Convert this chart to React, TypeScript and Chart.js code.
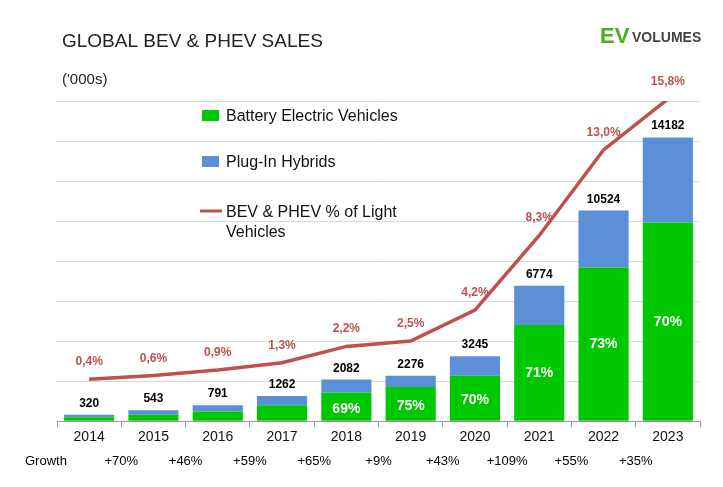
import React, { useEffect, useRef } from "react";
import { Chart, registerables } from "chart.js";
Chart.register(...registerables);

const years = ["2014","2015","2016","2017","2018","2019","2020","2021","2022","2023"];
const totals = [320,543,791,1262,2082,2276,3245,6774,10524,14182];
const bev = [200,320,480,800,1437,1707,2272,4810,7683,9927];
const phev = totals.map((t, i) => t - bev[i]);
const bevShareLabels = ["","","","","69%","75%","70%","71%","73%","70%"];
const sharePct = [0.4,0.6,0.9,1.3,2.2,2.5,4.2,8.3,13.0,15.8];
const shareLabels = ["0,4%","0,6%","0,9%","1,3%","2,2%","2,5%","4,2%","8,3%","13,0%","15,8%"];
const growth = ["","+70%","+46%","+59%","+65%","+9%","+43%","+109%","+55%","+35%"];

const RED = "#c0504d", GREEN = "#00c800", BLUE = "#5b8fd8";
const FONT = "Liberation Sans, Arial, sans-serif";

const deco = {
  id: "deco",
  afterDatasetsDraw(chart: any) {
    const ctx = chart.ctx;
    const x = chart.scales.x;
    const y = chart.scales.y;
    const y2 = chart.scales.y2;
    ctx.save();
    ctx.textAlign = "center";
    ctx.textBaseline = "alphabetic";
    ctx.font = `bold 12px ${FONT}`;
    ctx.fillStyle = "#000";
    totals.forEach((t, i) => ctx.fillText(String(t), x.getPixelForValue(i), y.getPixelForValue(t) - 8));
    ctx.font = `bold 14px ${FONT}`;
    ctx.fillStyle = "#fff";
    ctx.textBaseline = "middle";
    bevShareLabels.forEach((l, i) => { if (l) ctx.fillText(l, x.getPixelForValue(i), (y.getPixelForValue(bev[i]) + y.getPixelForValue(0)) / 2 + (bev[i] > 3000 ? 0 : 2)); });
    ctx.font = `bold 12px ${FONT}`;
    ctx.fillStyle = RED;
    ctx.textBaseline = "alphabetic";
    shareLabels.forEach((l, i) => ctx.fillText(l, x.getPixelForValue(i), y2.getPixelForValue(sharePct[i]) - 14));
    ctx.font = `13px ${FONT}`;
    ctx.fillStyle = "#000";
    ctx.textAlign = "left";
    ctx.fillText("Growth", 25, 465);
    ctx.textAlign = "center";
    growth.forEach((g, i) => { if (g) ctx.fillText(g, (x.getPixelForValue(i) + x.getPixelForValue(i - 1)) / 2, 465); });
    ctx.textAlign = "left";
    ctx.font = `19px ${FONT}`;
    ctx.fillStyle = "#222";
    ctx.fillText("GLOBAL BEV & PHEV SALES", 62, 47);
    ctx.font = `15px ${FONT}`;
    ctx.fillText("('000s)", 62, 84);
    ctx.font = `bold 22px ${FONT}`;
    ctx.fillStyle = "#4caf1a";
    ctx.fillText("EV", 600, 43);
    ctx.font = `bold 14px ${FONT}`;
    ctx.fillStyle = "#444";
    ctx.fillText("VOLUMES", 632, 42);
    ctx.font = `16px ${FONT}`;
    ctx.fillStyle = GREEN; ctx.fillRect(202, 110, 17, 11);
    ctx.fillStyle = BLUE; ctx.fillRect(202, 156, 17, 11);
    ctx.strokeStyle = RED; ctx.lineWidth = 3;
    ctx.beginPath(); ctx.moveTo(200, 211); ctx.lineTo(222, 211); ctx.stroke();
    ctx.fillStyle = "#111";
    ctx.fillText("Battery Electric Vehicles", 226, 121);
    ctx.fillText("Plug-In Hybrids", 226, 167);
    ctx.fillText("BEV & PHEV % of Light", 226, 217);
    ctx.fillText("Vehicles", 226, 237);
    ctx.restore();
  },
};

export default function App() {
  const ref = useRef<HTMLCanvasElement>(null);
  useEffect(() => {
    const chart = new Chart(ref.current!, {
      type: "bar",
      data: {
        labels: years,
        datasets: [
          { type: "line", data: sharePct, yAxisID: "y2", borderColor: RED, borderWidth: 3.5, pointRadius: 0, tension: 0, order: 0 } as any,
          { data: bev, backgroundColor: GREEN, yAxisID: "y", categoryPercentage: 0.78, barPercentage: 1, order: 1 },
          { data: phev, backgroundColor: BLUE, yAxisID: "y", categoryPercentage: 0.78, barPercentage: 1, order: 1 },
        ],
      },
      options: {
        animation: false,
        responsive: false,
        layout: { padding: { left: 57, right: 23, top: 101, bottom: 39 } },
        plugins: { legend: { display: false }, tooltip: { enabled: false } },
        scales: {
          x: {
            stacked: true,
            grid: { display: true, drawOnChartArea: false, offset: true, color: "#999", tickLength: 6 },
            border: { color: "#999" },
            ticks: { color: "#111", font: { size: 14, family: FONT }, padding: 2 },
          },
          y: {
            stacked: true, min: 0, max: 16000,
            ticks: { display: false, stepSize: 2000 },
            grid: { color: "#d9d9d9", drawTicks: false },
            border: { display: false },
          },
          y2: { display: false, min: -1.91, max: 15.69 },
        },
      },
      plugins: [deco],
    });
    return () => chart.destroy();
  }, []);
  return (
    <div style={{ position: "absolute", left: 0, top: 0, background: "#fff" }}>
      <canvas ref={ref} width={723} height={487} style={{ width: 723, height: 487 }} />
    </div>
  );
}
